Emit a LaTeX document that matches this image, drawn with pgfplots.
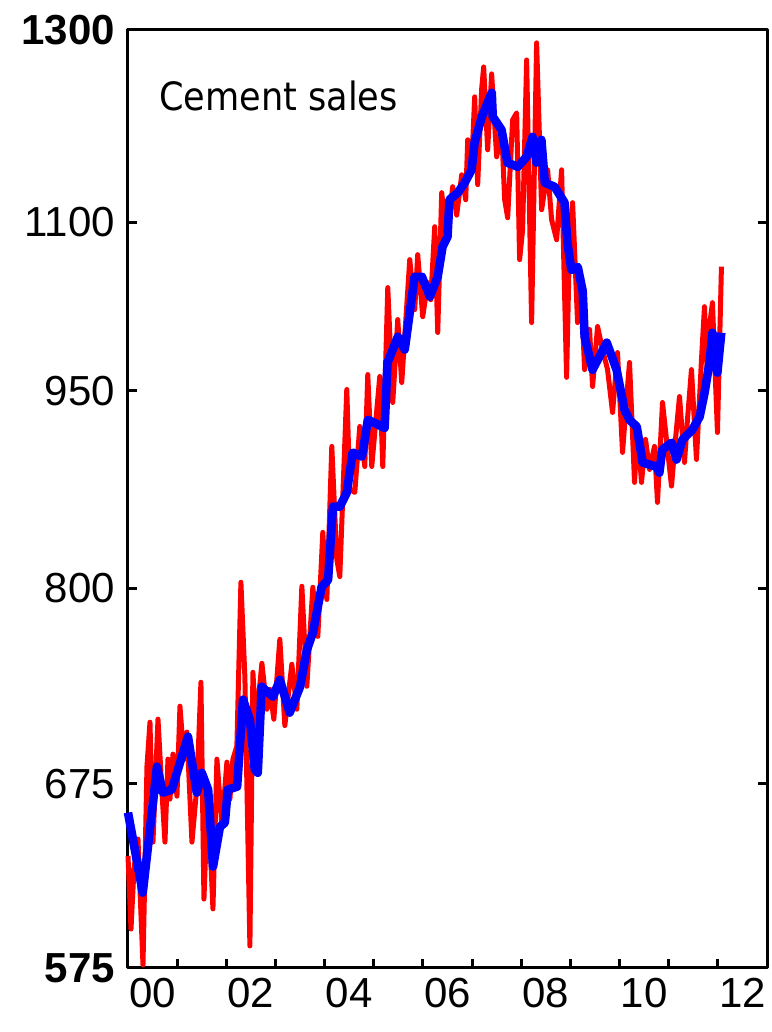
\documentclass[border=0pt]{standalone}
\usepackage{fontspec}
\setmainfont{Liberation Sans}
\newfontfamily\dvc{DejaVu Sans Condensed}
\usepackage{pgfplots}
\pgfplotsset{compat=1.18}
\definecolor{rawred}{RGB}{255,0,0}
\definecolor{trendblue}{RGB}{0,0,255}
\begin{document}
\begin{tikzpicture}
\begin{axis}[
  scale only axis, width=319.5pt, height=469pt,
  xmin=2000, xmax=2013, ymode=log, ymin=575, ymax=1300,
  axis line style={line width=1.5pt, black},
  tick align=inside, xtick pos=left, ytick pos=both,
  major tick length=4.5pt, tick style={line width=1.5pt, black},
  yminorticks=false, xminorticks=false,
  xtick={2001,2002,2003,2004,2005,2006,2007,2008,2009,2010,2011,2012},
  xticklabels={},
  extra x ticks={2000.5,2002.5,2004.5,2006.5,2008.5,2010.5,2012.5},
  extra x tick labels={00,02,04,06,08,10,12},
  extra x tick style={major tick length=0pt},
  ytick={575,675,800,950,1100,1300},
  yticklabels={\textbf{575},675,800,950,1100,\textbf{1300}},
  tick label style={font=\fontsize{21}{21}\selectfont},
  yticklabel style={xshift=-3pt},
  xticklabel style={yshift=-1.5pt},
  clip=false,
  line join=round,
]
\addplot[rawred, line width=2.5pt] coordinates {
(2000.000,633.8) (2000.061,594.8) (2000.122,626.7) (2000.203,643.2) (2000.305,576.5)
(2000.386,685.3) (2000.447,712.0) (2000.508,641.5) (2000.610,713.9) (2000.691,670.1)
(2000.752,641.5) (2000.813,689.5) (2000.854,666.0) (2000.915,692.5) (2000.996,667.7)
(2001.057,722.0) (2001.138,689.5) (2001.199,705.9) (2001.301,641.5) (2001.402,673.5)
(2001.484,737.2) (2001.545,610.5) (2001.626,670.1) (2001.728,605.3) (2001.809,689.5)
(2001.911,650.5) (2002.012,687.7) (2002.073,666.0) (2002.134,689.5) (2002.215,697.3)
(2002.297,804.1) (2002.378,740.4) (2002.480,586.1) (2002.541,743.6) (2002.602,709.9)
(2002.724,749.5) (2002.825,720.1) (2002.886,732.7) (2002.967,713.9) (2003.089,765.3)
(2003.191,709.9) (2003.333,748.8) (2003.435,720.1) (2003.537,801.3) (2003.638,734.6)
(2003.760,800.6) (2003.862,767.3) (2003.963,839.8) (2004.045,792.3) (2004.146,905.0)
(2004.248,820.3) (2004.309,808.1) (2004.451,950.9) (2004.512,871.8) (2004.614,869.5)
(2004.715,920.8) (2004.817,889.3) (2004.878,963.3) (2004.959,889.3) (2005.122,961.7)
(2005.183,889.3) (2005.285,1039.0) (2005.386,940.2) (2005.488,1010.5) (2005.569,956.7)
(2005.732,1064.6) (2005.833,1019.3) (2005.894,1069.2) (2005.996,1013.1) (2006.098,1043.5)
(2006.159,1028.2) (2006.240,1095.5) (2006.301,999.2) (2006.382,1128.4) (2006.484,1083.2)
(2006.606,1134.3) (2006.687,1106.6) (2006.789,1146.1) (2006.870,1121.5) (2006.911,1181.5)
(2006.992,1156.1) (2007.053,1226.5) (2007.114,1136.3) (2007.195,1235.1) (2007.236,1258.8)
(2007.317,1171.3) (2007.398,1251.2) (2007.500,1164.2) (2007.602,1191.8) (2007.663,1121.5)
(2007.724,1104.1) (2007.825,1202.2) (2007.907,1209.5) (2007.967,1064.6) (2008.028,1092.7)
(2008.110,1266.5) (2008.211,1007.9) (2008.313,1285.4) (2008.415,1111.8) (2008.476,1131.3)
(2008.537,1151.1) (2008.618,1102.2) (2008.720,1083.2) (2008.821,1151.1) (2008.923,961.0)
(2008.984,1086.0) (2009.045,1118.6) (2009.146,1007.9) (2009.228,1028.2) (2009.289,967.5)
(2009.390,1001.8) (2009.451,953.4) (2009.553,1004.4) (2009.654,984.5) (2009.756,967.5)
(2009.858,932.1) (2009.959,981.9) (2010.061,900.3) (2010.142,942.6) (2010.203,973.5)
(2010.305,877.1) (2010.366,918.4) (2010.447,877.1) (2010.528,910.5) (2010.610,887.0)
(2010.711,905.0) (2010.772,862.0) (2010.874,940.2) (2010.976,902.6) (2011.057,874.3)
(2011.138,910.5) (2011.220,945.1) (2011.321,892.5) (2011.382,926.4) (2011.463,967.5)
(2011.565,894.8) (2011.667,976.0) (2011.728,1021.9) (2011.789,959.2) (2011.829,1004.4)
(2011.890,1025.5) (2011.992,916.0) (2012.073,1058.1)
};
\addplot[trendblue, line width=4.3pt] coordinates {
(2000.00,658.2) (2000.30,613.9) (2000.59,685.0) (2000.71,669.7) (2000.89,671.4)
(2001.22,703.1) (2001.40,669.7) (2001.50,681.4) (2001.63,671.4) (2001.73,628.0)
(2001.87,650.1) (2001.97,652.4) (2002.03,671.4) (2002.22,673.2) (2002.34,726.1)
(2002.48,713.6) (2002.58,683.2) (2002.64,681.4) (2002.72,734.3) (2002.95,727.9)
(2003.09,738.7) (2003.29,718.0) (2003.50,734.3) (2003.64,758.4) (2003.76,769.5)
(2003.94,801.0) (2004.07,805.8) (2004.17,858.8) (2004.31,858.8) (2004.45,869.3)
(2004.57,900.1) (2004.76,897.0) (2004.88,926.3) (2005.22,919.7) (2005.28,973.4)
(2005.49,995.5) (2005.63,984.5) (2005.83,1048.8) (2005.98,1048.8) (2006.14,1030.9)
(2006.30,1048.8) (2006.40,1076.7) (2006.50,1085.9) (2006.54,1121.6) (2006.71,1128.4)
(2006.85,1138.2) (2006.99,1151.1) (2007.05,1178.5) (2007.20,1205.5) (2007.40,1230.9)
(2007.42,1205.5) (2007.60,1191.7) (2007.72,1158.2) (2007.93,1154.1) (2008.11,1164.3)
(2008.23,1184.6) (2008.31,1158.2) (2008.41,1181.5) (2008.48,1138.2) (2008.68,1134.2)
(2008.88,1118.7) (2008.94,1080.2) (2009.02,1055.0) (2009.15,1057.8) (2009.25,1036.0)
(2009.29,995.5) (2009.45,967.4) (2009.74,990.4) (2009.94,967.4) (2010.10,934.4)
(2010.20,926.3) (2010.35,920.6) (2010.47,892.3) (2010.75,889.2) (2010.81,884.5)
(2010.87,902.5) (2011.06,907.9) (2011.16,894.7) (2011.28,910.3) (2011.48,918.1)
(2011.63,928.7) (2011.73,948.3) (2011.83,973.4) (2011.89,999.0) (2011.99,964.9)
(2012.07,999.0)
};
\node[anchor=west, inner sep=0pt, font=\dvc\fontsize{19.5}{19.5}\selectfont] at (rel axis cs:0.0485,0.9296) {Cement sales};
\end{axis}
\pgfresetboundingbox
\path (current axis.south west) ++(-64pt,-32pt) rectangle ++(385.5pt,516pt);
\end{tikzpicture}
\end{document}
